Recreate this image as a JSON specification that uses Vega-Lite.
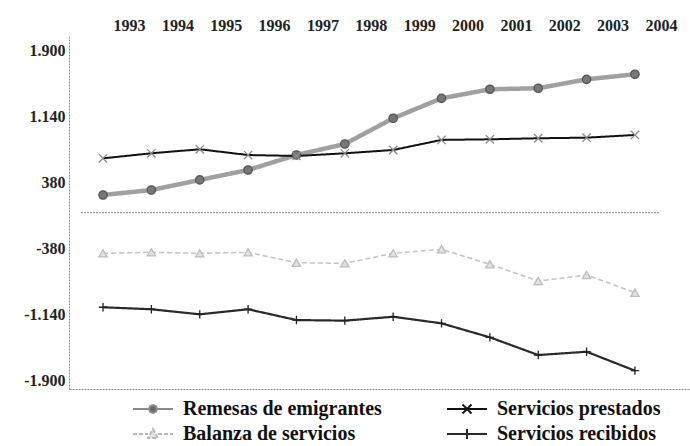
{
  "$schema": "https://vega.github.io/schema/vega-lite/v6.json",
  "width": 621,
  "height": 354,
  "autosize": {"type": "none"},
  "padding": {"left": 69, "top": 35, "right": 0, "bottom": 57},
  "background": "white",
  "config": {"view": {"stroke": null}, "axis": {"labelOverlap": false}, "axisY": {"labelOverlap": false},
    "legend": {"labelFont": "Liberation Serif", "labelFontSize": 20, "labelFontWeight": "bold", "labelColor": "#111", "labelLimit": 0}},
  "data": {"values": [
    {"year": "1993", "series": "Remesas de emigrantes", "value": 204},
    {"year": "1994", "series": "Remesas de emigrantes", "value": 261},
    {"year": "1995", "series": "Remesas de emigrantes", "value": 377},
    {"year": "1996", "series": "Remesas de emigrantes", "value": 492},
    {"year": "1997", "series": "Remesas de emigrantes", "value": 664},
    {"year": "1998", "series": "Remesas de emigrantes", "value": 791},
    {"year": "1999", "series": "Remesas de emigrantes", "value": 1087},
    {"year": "2000", "series": "Remesas de emigrantes", "value": 1317},
    {"year": "2001", "series": "Remesas de emigrantes", "value": 1421},
    {"year": "2002", "series": "Remesas de emigrantes", "value": 1433},
    {"year": "2003", "series": "Remesas de emigrantes", "value": 1536},
    {"year": "2004", "series": "Remesas de emigrantes", "value": 1594},
    {"year": "1993", "series": "Servicios prestados", "value": 626},
    {"year": "1994", "series": "Servicios prestados", "value": 684},
    {"year": "1995", "series": "Servicios prestados", "value": 730},
    {"year": "1996", "series": "Servicios prestados", "value": 664},
    {"year": "1997", "series": "Servicios prestados", "value": 653},
    {"year": "1998", "series": "Servicios prestados", "value": 684},
    {"year": "1999", "series": "Servicios prestados", "value": 722},
    {"year": "2000", "series": "Servicios prestados", "value": 838},
    {"year": "2001", "series": "Servicios prestados", "value": 845},
    {"year": "2002", "series": "Servicios prestados", "value": 857},
    {"year": "2003", "series": "Servicios prestados", "value": 864},
    {"year": "2004", "series": "Servicios prestados", "value": 895},
    {"year": "1993", "series": "Balanza de servicios", "value": -468},
    {"year": "1994", "series": "Balanza de servicios", "value": -456},
    {"year": "1995", "series": "Balanza de servicios", "value": -468},
    {"year": "1996", "series": "Balanza de servicios", "value": -456},
    {"year": "1997", "series": "Balanza de servicios", "value": -576},
    {"year": "1998", "series": "Balanza de servicios", "value": -583},
    {"year": "1999", "series": "Balanza de servicios", "value": -468},
    {"year": "2000", "series": "Balanza de servicios", "value": -421},
    {"year": "2001", "series": "Balanza de servicios", "value": -594},
    {"year": "2002", "series": "Balanza de servicios", "value": -787},
    {"year": "2003", "series": "Balanza de servicios", "value": -717},
    {"year": "2004", "series": "Balanza de servicios", "value": -921},
    {"year": "1993", "series": "Servicios recibidos", "value": -1089},
    {"year": "1994", "series": "Servicios recibidos", "value": -1112},
    {"year": "1995", "series": "Servicios recibidos", "value": -1170},
    {"year": "1996", "series": "Servicios recibidos", "value": -1112},
    {"year": "1997", "series": "Servicios recibidos", "value": -1236},
    {"year": "1998", "series": "Servicios recibidos", "value": -1243},
    {"year": "1999", "series": "Servicios recibidos", "value": -1198},
    {"year": "2000", "series": "Servicios recibidos", "value": -1274},
    {"year": "2001", "series": "Servicios recibidos", "value": -1435},
    {"year": "2002", "series": "Servicios recibidos", "value": -1639},
    {"year": "2003", "series": "Servicios recibidos", "value": -1601},
    {"year": "2004", "series": "Servicios recibidos", "value": -1819}
  ]},
  "resolve": {"axis": {"x": "independent"}, "scale": {"shape": "independent", "stroke": "independent", "fill": "independent", "strokeDash": "independent"}},
  "layer": [
    {
      "data": {"values": [{}]},
      "mark": {"type": "rule", "color": "#888", "strokeDash": [2, 1], "strokeWidth": 1, "xOffset": -22, "x2Offset": 25},
      "encoding": {
        "x": {"datum": "1993", "type": "ordinal", "axis": null},
        "x2": {"datum": "2004"},
        "y": {"datum": 0, "type": "quantitative"}
      }
    },
    {
      "mark": {"type": "line", "strokeJoin": "round"},
      "encoding": {
        "x": {
          "field": "year", "type": "ordinal", "sort": null,
          "scale": {"type": "point", "domain": ["1993", "1994", "1995", "1996", "1997", "1998", "1999", "2000", "2001", "2002", "2003", "2004"], "padding": 0.921, "align": 0.382},
          "axis": {"orient": "top", "domain": false, "ticks": false, "grid": false, "labelOverlap": false, "labelPadding": 2, "labelAngle": 0, "labelOffset": 26, "labelFont": "Liberation Serif", "labelFontSize": 16, "labelFontWeight": "bold", "labelColor": "#222", "title": null}
        },
        "y": {
          "field": "value", "type": "quantitative",
          "scale": {"domain": [-2030, 2046], "nice": false, "zero": false},
          "axis": {"values": [-1900, -1520, -1140, -760, -380, 0, 380, 760, 1140, 1520, 1900], "labelOverlap": false, "labelExpr": "replace(replace(format(datum.value, ','), ',', '.'), '−', '-')", "grid": false, "ticks": false, "labelPadding": 4, "labelOffset": 3, "domainColor": "#888", "domainDash": [2, 1], "labelFont": "Liberation Serif", "labelFontSize": 16, "labelFontWeight": "bold", "labelColor": "#222", "title": null}
        },
        "color": {"field": "series", "type": "nominal", "legend": null,
          "scale": {"range": ["#c4c4c4", "#a0a0a0", "#111111", "#2a2a2a"]}},
        "strokeDash": {"field": "series", "type": "nominal", "legend": null,
          "scale": {"range": [[5, 3], [1, 0], [1, 0], [1, 0]]}},
        "strokeWidth": {"field": "series", "type": "nominal", "legend": null,
          "scale": {"type": "ordinal", "range": [1.5, 4.5, 2, 2.2]}}
      }
    },
    {
      "mark": {"type": "point", "filled": true, "size": 70, "strokeWidth": 1.3, "opacity": 1},
      "encoding": {
        "x": {"field": "year", "type": "ordinal", "sort": null,
          "axis": {"orient": "bottom", "labels": false, "ticks": false, "grid": false, "domain": true, "domainColor": "#888", "domainDash": [2, 1], "title": null}},
        "y": {"field": "value", "type": "quantitative",
          "axis": {"values": [-1900, -1520, -1140, -760, -380, 0, 380, 760, 1140, 1520, 1900], "labelOverlap": false, "labelExpr": "replace(replace(format(datum.value, ','), ',', '.'), '−', '-')", "grid": false, "ticks": false, "labelPadding": 4, "labelOffset": 3, "domainColor": "#888", "domainDash": [2, 1], "labelFont": "Liberation Serif", "labelFontSize": 16, "labelFontWeight": "bold", "labelColor": "#222", "title": null}},
        "shape": {"field": "series", "type": "nominal", "legend": null,
          "scale": {"range": ["triangle-up", "circle", "M-1,-1L1,1M-1,1L1,-1", "M-1,0H1M0,-1V1"]}},
        "stroke": {"field": "series", "type": "nominal", "legend": null,
          "scale": {"range": ["#bdbdbd", "#555555", "#8a8a8a", "#222222"]}},
        "fill": {"field": "series", "type": "nominal", "legend": null,
          "scale": {"range": ["#e2e2e2", "#777777", "transparent", "transparent"]}}
      }
    },
    {
      "transform": [{"filter": "false"}],
      "mark": {"type": "point", "filled": false, "strokeWidth": 2, "opacity": 1},
      "encoding": {
        "shape": {"field": "series", "type": "nominal",
          "scale": {"domain": ["Remesas de emigrantes", "Servicios prestados", "Balanza de servicios", "Servicios recibidos"],
            "range": ["M-2,0H-0.4M0.4,0H2M0.4,0L0.28,0.28L0,0.4L-0.28,0.28L-0.4,0L-0.28,-0.28L0,-0.4L0.28,-0.28Z", "M-2,0H2M-0.45,-0.45L0.45,0.45M-0.45,0.45L0.45,-0.45", "M-2,0H-0.5M0.5,0H2M0,-0.5L0.5,0.4L-0.5,0.4Z", "M-2,0H2M0,-0.5V0.5"]},
          "legend": {"orient": "none", "direction": "horizontal", "legendX": 63, "legendY": 363, "columns": 2, "columnPadding": 61, "rowPadding": 4,
            "symbolSize": 400, "symbolOffset": 10, "labelOffset": 19, "symbolStrokeWidth": 2, "title": null,
            "labelFont": "Liberation Serif", "labelFontSize": 20, "labelFontWeight": "bold", "labelColor": "#111", "labelLimit": 0}},
        "stroke": {"field": "series", "type": "nominal",
          "scale": {"domain": ["Remesas de emigrantes", "Servicios prestados", "Balanza de servicios", "Servicios recibidos"],
            "range": ["#8a8a8a", "#111111", "#b8b8b8", "#2a2a2a"]},
          "legend": {"orient": "none", "direction": "horizontal", "legendX": 63, "legendY": 363, "columns": 2, "columnPadding": 61, "rowPadding": 4,
            "symbolSize": 400, "symbolOffset": 10, "labelOffset": 19, "symbolStrokeWidth": 2, "title": null,
            "labelFont": "Liberation Serif", "labelFontSize": 20, "labelFontWeight": "bold", "labelColor": "#111", "labelLimit": 0}},
        "fill": {"field": "series", "type": "nominal",
          "scale": {"domain": ["Remesas de emigrantes", "Servicios prestados", "Balanza de servicios", "Servicios recibidos"],
            "range": ["#666666", "transparent", "#e0e0e0", "transparent"]},
          "legend": {"orient": "none", "direction": "horizontal", "legendX": 63, "legendY": 363, "columns": 2, "columnPadding": 61, "rowPadding": 4,
            "symbolSize": 400, "symbolOffset": 10, "labelOffset": 19, "symbolStrokeWidth": 2, "title": null,
            "labelFont": "Liberation Serif", "labelFontSize": 20, "labelFontWeight": "bold", "labelColor": "#111", "labelLimit": 0}},
        "strokeDash": {"field": "series", "type": "nominal",
          "scale": {"domain": ["Remesas de emigrantes", "Servicios prestados", "Balanza de servicios", "Servicios recibidos"],
            "range": [[1, 0], [1, 0], [4, 2], [1, 0]]},
          "legend": {"orient": "none", "direction": "horizontal", "legendX": 63, "legendY": 363, "columns": 2, "columnPadding": 61, "rowPadding": 4,
            "symbolSize": 400, "symbolOffset": 10, "labelOffset": 19, "symbolStrokeWidth": 2, "title": null,
            "labelFont": "Liberation Serif", "labelFontSize": 20, "labelFontWeight": "bold", "labelColor": "#111", "labelLimit": 0}}
      }
    }
  ]
}
